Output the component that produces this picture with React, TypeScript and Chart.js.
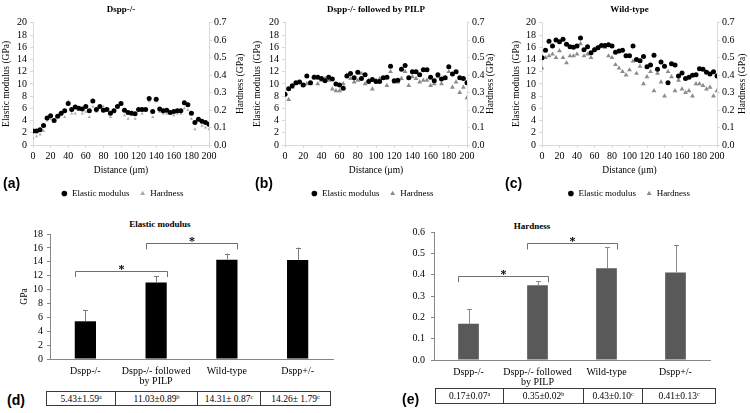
import React, { useEffect, useRef } from "react";
import { Chart, registerables } from "chart.js";

Chart.register(...registerables);

const SERIF = "'Liberation Serif', 'Times New Roman', serif";
const SANS = "'Liberation Sans', Arial, sans-serif";

// ---------- data: line profiles (distance in μm) ----------
const DISTANCE = [0, 4, 8, 12, 16, 20, 24, 28, 32, 36, 40, 44, 48, 52, 56, 60, 64, 68, 72, 76, 80, 84, 88, 92, 96, 100, 104, 108, 112, 116, 120, 124, 128, 132, 136, 140, 144, 148, 152, 156, 160, 164, 168, 172, 176, 180, 184, 188, 192, 196, 200];

const A_ELASTIC = [2.3, 2.3, 2.5, 3.2, 4.4, 4.8, 4.0, 4.7, 5.2, 5.6, 6.8, 5.8, 6.2, 6.0, 5.9, 6.3, 5.6, 7.2, 5.8, 6.3, 5.7, 5.8, 5.2, 5.6, 6.3, 6.8, 5.7, 5.3, 5.2, 5.1, 5.8, 5.8, 5.8, 7.6, 5.5, 7.5, 5.9, 5.6, 5.7, 5.3, 5.5, 5.6, 5.6, 6.9, 6.6, 5.2, 3.7, 4.2, 3.9, 3.7, 3.4];
const A_HARDNESS = [0.04, 0.05, 0.06, 0.08, 0.14, 0.15, 0.14, 0.16, 0.17, 0.16, 0.25, 0.18, 0.18, 0.2, 0.18, 0.19, 0.16, 0.22, 0.19, 0.21, 0.22, 0.21, 0.16, 0.19, 0.22, 0.23, 0.17, 0.15, 0.19, 0.15, 0.2, 0.18, 0.2, 0.25, 0.16, 0.25, 0.19, 0.18, 0.18, 0.18, 0.17, 0.18, 0.18, 0.21, 0.2, 0.15, 0.09, 0.14, 0.11, 0.1, 0.09];

const B_ELASTIC = [8.3, 9.2, 9.7, 10.2, 10.3, 9.8, 11.3, 10.2, 11.1, 11.1, 10.9, 10.5, 11.1, 10.8, 10.0, 9.8, 9.3, 11.3, 11.7, 11.0, 11.9, 10.9, 11.5, 10.4, 10.7, 10.4, 10.4, 11.0, 11.1, 12.9, 10.5, 10.6, 12.4, 13.0, 11.0, 12.0, 12.0, 11.5, 12.3, 12.3, 11.1, 10.5, 11.5, 10.8, 11.0, 12.8, 11.6, 12.0, 11.0, 10.9, 10.2];
const B_HARDNESS = [0.29, 0.26, 0.33, 0.35, 0.36, 0.34, 0.35, 0.35, 0.39, 0.35, 0.37, 0.38, 0.37, 0.32, 0.31, 0.31, 0.35, 0.4, 0.38, 0.36, 0.37, 0.41, 0.35, 0.37, 0.32, 0.37, 0.38, 0.38, 0.34, 0.42, 0.36, 0.36, 0.38, 0.42, 0.34, 0.39, 0.38, 0.36, 0.37, 0.37, 0.34, 0.35, 0.39, 0.35, 0.38, 0.42, 0.33, 0.36, 0.3, 0.33, 0.27];

const C_ELASTIC = [14.3, 15.5, 17.0, 16.2, 17.2, 16.9, 17.3, 16.5, 16.1, 16.0, 16.2, 17.5, 15.6, 16.1, 15.1, 15.6, 15.9, 16.3, 16.3, 16.4, 16.2, 15.2, 15.4, 15.5, 14.6, 14.6, 16.2, 14.0, 13.8, 14.5, 12.8, 13.1, 14.7, 12.4, 13.6, 12.9, 10.2, 13.3, 13.1, 11.3, 11.8, 10.9, 11.1, 11.4, 11.5, 12.5, 12.4, 11.9, 11.6, 12.0, 11.3];
const C_HARDNESS = [0.44, 0.5, 0.51, 0.52, 0.5, 0.54, 0.5, 0.47, 0.51, 0.51, 0.52, 0.58, 0.51, 0.52, 0.5, 0.55, 0.56, 0.57, 0.56, 0.51, 0.5, 0.46, 0.44, 0.42, 0.4, 0.43, 0.48, 0.41, 0.45, 0.35, 0.39, 0.42, 0.31, 0.41, 0.36, 0.28, 0.42, 0.39, 0.31, 0.37, 0.32, 0.3, 0.31, 0.28, 0.35, 0.35, 0.34, 0.32, 0.33, 0.28, 0.31];

// ---------- data: group summaries ----------
const GROUPS: (string | string[])[] = ["Dspp-/-", ["Dspp-/- followed", "by PILP"], "Wild-type", "Dspp+/-"];
const EM_MEAN = [5.43, 11.03, 14.31, 14.26];
const EM_SD = [1.59, 0.89, 0.87, 1.79];
const HD_MEAN = [0.17, 0.35, 0.43, 0.41];
const HD_SD = [0.07, 0.02, 0.1, 0.13];
const SIG_LETTER = ["a", "b", "c", "c"];
const EM_SEP = ["±", "±", "± ", "± "];
const HD_SEP = ["±", "±", "±", "±"];
// significance brackets: [from group, to group, level, drop]
const EM_BRACKETS = [[0, 1, 12.7, 0.9], [1, 2, 16.7, 0.9]];
const HD_BRACKETS = [[0, 1, 0.395, 0.03], [1, 2, 0.548, 0.03]];

const sigPlugin = {
  id: "sigMarks",
  afterDatasetsDraw(chart: any, _args: any, opts: any) {
    const { ctx } = chart;
    const y = chart.scales.y;
    const meta = chart.getDatasetMeta(0);
    const values = chart.data.datasets[0].data as number[];
    ctx.save();
    ctx.lineWidth = 1;
    ctx.strokeStyle = opts.errColor;
    meta.data.forEach((bar: any, i: number) => {
      const top = y.getPixelForValue(values[i] + opts.sd[i]);
      const x = Math.round(bar.x) + 0.5;
      ctx.beginPath();
      ctx.moveTo(x, bar.y);
      ctx.lineTo(x, top);
      ctx.moveTo(x - 2.5, Math.round(top) + 0.5);
      ctx.lineTo(x + 2.5, Math.round(top) + 0.5);
      ctx.stroke();
    });
    ctx.strokeStyle = opts.bracketColor;
    ctx.fillStyle = "#000";
    ctx.font = `bold 12px ${SERIF}`;
    ctx.textAlign = "center";
    ctx.textBaseline = "alphabetic";
    opts.brackets.forEach((b: number[]) => {
      const b1 = meta.data[b[0]];
      const b2 = meta.data[b[1]];
      const x1 = Math.round(b1.x - b1.width / 2) + 0.5;
      const x2 = Math.round(b2.x + b2.width / 2) + 0.5;
      const yy = Math.round(y.getPixelForValue(b[2])) + 0.5;
      const yd = y.getPixelForValue(b[2] - b[3]);
      ctx.beginPath();
      ctx.moveTo(x1, yd);
      ctx.lineTo(x1, yy);
      ctx.lineTo(x2, yy);
      ctx.lineTo(x2, yd);
      ctx.stroke();
      ctx.fillText("*", (x1 + x2) / 2, yy + 1);
    });
    ctx.restore();
  },
};

// right-axis title, reading bottom-to-top like the left one
const rightTitlePlugin = {
  id: "rightTitle",
  afterDraw(chart: any, _args: any, opts: any) {
    const s = chart.scales.y1;
    const { ctx, chartArea } = chart;
    ctx.save();
    ctx.translate(s.right - opts.offset, (chartArea.top + chartArea.bottom) / 2);
    ctx.rotate(-Math.PI / 2);
    ctx.font = `9.5px ${SERIF}`;
    ctx.fillStyle = "#000";
    ctx.textAlign = "center";
    ctx.textBaseline = "middle";
    ctx.fillText(opts.text, 0, 0);
    ctx.restore();
  },
};

type ScatterProps = {
  title: string;
  elastic: number[];
  hardness: number[];
  hardColor: string;
  hardRadius: number;
  left: number;
  width: number;
  areaL: number;
  areaR: number;
  leftTitlePad: number;
  rightTitleOffset: number;
};

function ScatterPanel(p: ScatterProps) {
  const ref = useRef<HTMLCanvasElement>(null);
  useEffect(() => {
    const tickFont = { family: SERIF, size: 10 };
    const titleFont = { family: SERIF, size: 9.5 };
    const chart = new Chart(ref.current as HTMLCanvasElement, {
      type: "scatter",
      data: {
        datasets: [
          {
            label: "Elastic modulus",
            data: DISTANCE.map((x, i) => ({ x, y: p.elastic[i] })),
            yAxisID: "y",
            pointStyle: "circle",
            pointRadius: 2.5,
            backgroundColor: "#000",
            borderColor: "#000",
            borderWidth: 0,
          },
          {
            label: "Hardness",
            data: DISTANCE.map((x, i) => ({ x, y: p.hardness[i] })),
            yAxisID: "y1",
            pointStyle: "triangle",
            pointRadius: p.hardRadius,
            backgroundColor: p.hardColor,
            borderColor: p.hardColor,
            borderWidth: 0,
          },
        ],
      },
      options: {
        responsive: false,
        animation: false,
        layout: { padding: 0 },
        plugins: {
          title: {
            display: true,
            text: p.title,
            fullSize: false,
            color: "#000",
            font: { family: SERIF, size: 9, weight: "bold" },
            padding: { top: 4, bottom: 8 },
          },
          legend: {
            position: "bottom",
            labels: {
              usePointStyle: true,
              boxWidth: 6,
              boxHeight: 4,
              padding: 10,
              color: "#000",
              font: { family: SERIF, size: 9 },
            },
          },
          tooltip: { enabled: false },
          rightTitle: { text: "Hardness (GPa)", offset: p.rightTitleOffset },
        },
        scales: {
          x: {
            type: "linear",
            min: 0,
            max: 200,
            afterFit: (s: any) => { s.height = 34; },
            ticks: { stepSize: 20, color: "#000", font: tickFont, padding: 2, maxRotation: 0, autoSkip: false },
            grid: { drawOnChartArea: false, tickLength: 3, color: "#d9d9d9" },
            border: { color: "#d9d9d9" },
            title: { display: true, text: "Distance (μm)", color: "#000", font: titleFont, padding: { top: 0, bottom: 3 } },
          },
          y: {
            position: "left",
            min: 0,
            max: 20,
            afterFit: (s: any) => { s.width = p.areaL; },
            ticks: { stepSize: 2, color: "#000", font: tickFont, padding: 3, autoSkip: false },
            grid: { drawOnChartArea: false, tickLength: 3, color: "#d9d9d9" },
            border: { color: "#d9d9d9" },
            title: { display: true, text: "Elastic modulus (GPa)", color: "#000", font: titleFont, padding: { top: p.leftTitlePad, bottom: 0 } },
          },
          y1: {
            position: "right",
            min: 0,
            max: 0.7,
            afterFit: (s: any) => { s.width = p.width - p.areaR; },
            ticks: { stepSize: 0.1, color: "#000", font: tickFont, padding: 2, autoSkip: false, callback: (v: any) => Number(v).toFixed(1) },
            grid: { drawOnChartArea: false, tickLength: 3, color: "#d9d9d9" },
            border: { color: "#d9d9d9" },
            title: { display: false },
          },
        },
      } as any,
      plugins: [rightTitlePlugin],
    });
    return () => chart.destroy();
  }, []);
  return (
    <canvas
      ref={ref}
      width={p.width}
      height={208}
      style={{ position: "absolute", left: p.left, top: 0, width: p.width, height: 208 }}
    />
  );
}

type BarProps = {
  means: number[];
  sds: number[];
  brackets: number[][];
  color: string;
  errColor: string;
  max: number;
  step: number;
  decimals: number;
  yTitle: string;
  left: number;
  top: number;
  width: number;
  height: number;
  areaL: number;
  padTop: number;
  padRight: number;
  labelPad: number;
};

function BarPanel(p: BarProps) {
  const ref = useRef<HTMLCanvasElement>(null);
  useEffect(() => {
    const tickFont = { family: SERIF, size: 10 };
    const chart = new Chart(ref.current as HTMLCanvasElement, {
      type: "bar",
      data: {
        labels: GROUPS,
        datasets: [
          {
            data: p.means,
            backgroundColor: p.color,
            borderWidth: 0,
            categoryPercentage: 1,
            barPercentage: 0.3,
          },
        ],
      },
      options: {
        responsive: false,
        animation: false,
        layout: { padding: { top: p.padTop, right: p.padRight, left: 0, bottom: 0 } },
        plugins: {
          legend: { display: false },
          title: { display: false },
          tooltip: { enabled: false },
          sigMarks: { sd: p.sds, brackets: p.brackets, errColor: p.errColor, bracketColor: "#6f6f6f" },
        },
        scales: {
          x: {
            afterFit: (s: any) => { s.height = 30; },
            ticks: { color: "#000", font: { family: SERIF, size: 10, lineHeight: 0.95 }, padding: 0, maxRotation: 0, autoSkip: false },
            grid: { display: false },
            border: { color: "#868686" },
          },
          y: {
            min: 0,
            max: p.max,
            afterFit: (s: any) => { s.width = p.areaL; },
            ticks: { stepSize: p.step, color: "#000", font: tickFont, padding: p.labelPad, autoSkip: false, callback: (v: any) => Number(v).toFixed(p.decimals) },
            grid: { drawOnChartArea: false, tickLength: 3, color: "#868686" },
            border: { color: "#868686" },
            title: { display: p.yTitle !== "", text: p.yTitle, color: "#000", font: { family: SERIF, size: 9.5 }, padding: { top: 19, bottom: 0 } },
          },
        },
      } as any,
      plugins: [sigPlugin],
    });
    return () => chart.destroy();
  }, []);
  return (
    <canvas
      ref={ref}
      width={p.width}
      height={p.height}
      style={{ position: "absolute", left: p.left, top: p.top, width: p.width, height: p.height }}
    />
  );
}

function StatTable(props: { left: number; top: number; widths: number[]; height: number; means: number[]; sds: number[]; seps: string[] }) {
  return (
    <table
      style={{
        position: "absolute",
        left: props.left,
        top: props.top,
        borderCollapse: "collapse",
        fontFamily: SERIF,
        fontSize: 9.5,
        color: "#000",
        tableLayout: "fixed",
      }}
    >
      <tbody>
        <tr>
          {props.means.map((m, i) => (
            <td
              key={i}
              style={{
                width: props.widths[i],
                height: props.height,
                border: "1px solid #3a3a3a",
                padding: 0,
                textAlign: "center",
                lineHeight: "10px",
              }}
            >
              {m.toFixed(2)}
              {props.seps[i]}
              {props.sds[i].toFixed(2)}
              <sup style={{ fontSize: 6, verticalAlign: "top", lineHeight: "6px" }}>{SIG_LETTER[i]}</sup>
            </td>
          ))}
        </tr>
      </tbody>
    </table>
  );
}

const panelLabel = (text: string, left: number, top: number) => (
  <div
    style={{
      position: "absolute",
      left,
      top,
      fontFamily: SANS,
      fontWeight: "bold",
      fontSize: 14,
      lineHeight: "16px",
      color: "#000",
    }}
  >
    {text}
  </div>
);

export default function App() {
  return (
    <div style={{ position: "absolute", left: 0, top: 0, width: 750, height: 413, background: "#fff", overflow: "hidden" }}>
      <ScatterPanel title="Dspp-/-" elastic={A_ELASTIC} hardness={A_HARDNESS} hardColor="#a8a8a8" hardRadius={1.8} left={0} width={245} areaL={33} areaR={209} leftTitlePad={1} rightTitleOffset={5} />
      <ScatterPanel title="Dspp-/- followed by PILP" elastic={B_ELASTIC} hardness={B_HARDNESS} hardColor="#8c8c8c" hardRadius={2.8} left={250} width={245} areaL={35} areaR={217} leftTitlePad={2} rightTitleOffset={5} />
      <ScatterPanel title="Wild-type" elastic={C_ELASTIC} hardness={C_HARDNESS} hardColor="#8c8c8c" hardRadius={2.8} left={508} width={242} areaL={34} areaR={209} leftTitlePad={3} rightTitleOffset={8} />
      {panelLabel("(a)", 3, 175)}
      {panelLabel("(b)", 255, 175)}
      {panelLabel("(c)", 505, 175)}

      <div style={{ position: "absolute", left: 110, top: 219, width: 100, textAlign: "center", fontFamily: SERIF, fontWeight: "bold", fontSize: 9, color: "#000" }}>Elastic modulus</div>
      <BarPanel means={EM_MEAN} sds={EM_SD} brackets={EM_BRACKETS} color="#000" errColor="#7a7a7a" max={18} step={2} decimals={0} yTitle="GPa" left={0} top={212} width={345} height={177} areaL={50} padTop={22} padRight={12} labelPad={4} />
      <StatTable left={46} top={391} widths={[68, 81, 62, 69]} height={13} means={EM_MEAN} sds={EM_SD} seps={EM_SEP} />
      {panelLabel("(d)", 7, 392)}

      <div style={{ position: "absolute", left: 482, top: 221, width: 100, textAlign: "center", fontFamily: SERIF, fontWeight: "bold", fontSize: 9, color: "#000" }}>Hardness</div>
      <BarPanel means={HD_MEAN} sds={HD_SD} brackets={HD_BRACKETS} color="#595959" errColor="#8a8a8a" max={0.6} step={0.1} decimals={1} yTitle="" left={375} top={212} width={350} height={178} areaL={59} padTop={20} padRight={15} labelPad={6} />
      <StatTable left={435} top={388} widths={[67, 79, 58, 72]} height={14} means={HD_MEAN} sds={HD_SD} seps={HD_SEP} />
      {panelLabel("(e)", 402, 391)}
    </div>
  );
}
